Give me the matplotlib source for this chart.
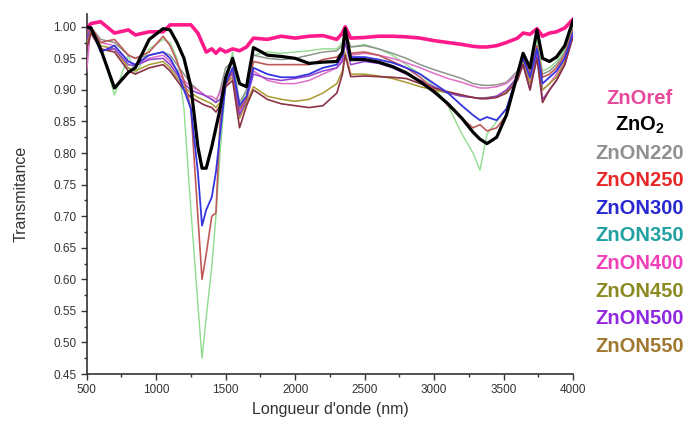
import numpy as np
import matplotlib
matplotlib.use("Agg")
import matplotlib.pyplot as plt
from matplotlib.ticker import MultipleLocator

plt.rcParams['font.family'] = ['Liberation Sans', 'DejaVu Sans']
plt.rcParams['mathtext.fontset'] = 'custom'
plt.rcParams['mathtext.rm'] = 'Liberation Sans:bold'
plt.rcParams['mathtext.default'] = 'rm'

# wavelength grid [nm]
wl = [500, 530, 600, 700, 800, 850, 950, 1050, 1100, 1150,
      1200, 1250, 1300, 1330, 1360, 1400, 1430, 1460, 1500, 1550,
      1600, 1650, 1700, 1800, 1900, 2000, 2100, 2200, 2300, 2340,
      2360, 2400, 2500, 2600, 2700, 2800, 2900, 3000, 3100, 3200,
      3280, 3330, 3380, 3450, 3520, 3600, 3640, 3690, 3740, 3780,
      3830, 3880, 3940, 4000]

zno_ref = [0.998, 1.005, 1.008, 0.990, 0.995, 0.987, 0.992, 0.992, 1.003, 1.003,
           1.003, 1.003, 0.990, 0.975, 0.960, 0.965, 0.958, 0.965, 0.960, 0.965,
           0.962, 0.968, 0.982, 0.980, 0.985, 0.982, 0.985, 0.986, 0.980, 0.990,
           1.000, 0.982, 0.983, 0.985, 0.985, 0.984, 0.982, 0.978, 0.975, 0.972,
           0.969, 0.968, 0.968, 0.970, 0.975, 0.982, 0.990, 0.988, 0.997, 0.985,
           0.990, 0.992, 0.998, 1.012]

zno2 = [1.000, 0.998, 0.965, 0.903, 0.928, 0.935, 0.980, 0.997, 0.995, 0.975,
        0.950, 0.905, 0.810, 0.776, 0.776, 0.810, 0.840, 0.870, 0.920, 0.950,
        0.910, 0.905, 0.967, 0.955, 0.953, 0.950, 0.942, 0.944, 0.945, 0.960,
        0.997, 0.948, 0.948, 0.944, 0.937, 0.927, 0.913, 0.897, 0.878, 0.855,
        0.833, 0.822, 0.815, 0.825, 0.860, 0.925, 0.958, 0.935, 0.995, 0.950,
        0.945, 0.952, 0.970, 1.010]

zon220 = [0.970, 1.000, 0.980, 0.975, 0.955, 0.950, 0.955, 0.960, 0.955, 0.940,
          0.925, 0.910, 0.900, 0.895, 0.890, 0.885, 0.880, 0.900, 0.935, 0.945,
          0.880, 0.900, 0.955, 0.950, 0.948, 0.950, 0.955, 0.960, 0.962, 0.970,
          0.990, 0.968, 0.970, 0.965, 0.958, 0.950, 0.940, 0.932, 0.925, 0.918,
          0.910, 0.908, 0.907, 0.908, 0.912, 0.930, 0.955, 0.930, 0.970, 0.925,
          0.930, 0.940, 0.960, 0.995]

zon250 = [0.990, 1.000, 0.975, 0.980, 0.955, 0.950, 0.960, 0.985, 0.970, 0.945,
          0.915, 0.870, 0.700, 0.600, 0.640, 0.700, 0.705, 0.850, 0.905, 0.930,
          0.870, 0.885, 0.945, 0.940, 0.940, 0.940, 0.940, 0.948, 0.952, 0.960,
          0.990, 0.958, 0.960, 0.955, 0.945, 0.935, 0.920, 0.900, 0.875, 0.855,
          0.840, 0.845, 0.835, 0.840, 0.860, 0.920, 0.955, 0.925, 0.970, 0.920,
          0.925, 0.935, 0.955, 0.995]

zon300 = [0.995, 1.000, 0.960, 0.970, 0.945, 0.940, 0.955, 0.960, 0.950, 0.930,
          0.900, 0.870, 0.770, 0.685, 0.710, 0.730, 0.770, 0.830, 0.910, 0.935,
          0.875, 0.890, 0.935, 0.925, 0.920, 0.920, 0.925, 0.935, 0.940, 0.955,
          0.990, 0.952, 0.952, 0.948, 0.943, 0.935, 0.925, 0.910, 0.895, 0.875,
          0.860, 0.852, 0.857, 0.852, 0.870, 0.925, 0.950, 0.920, 0.965, 0.910,
          0.920, 0.930, 0.950, 0.990]

zon350 = [0.990, 1.000, 0.970, 0.892, 0.955, 0.925, 0.965, 0.980, 0.975, 0.950,
          0.870, 0.710, 0.560, 0.475, 0.540, 0.620, 0.700, 0.800, 0.910, 0.960,
          0.870, 0.900, 0.955, 0.960, 0.958, 0.960, 0.962, 0.965, 0.965, 0.975,
          0.990, 0.968, 0.972, 0.965, 0.955, 0.940, 0.925, 0.905, 0.875, 0.830,
          0.800, 0.773, 0.830, 0.850, 0.870, 0.920, 0.955, 0.930, 0.980, 0.930,
          0.935, 0.945, 0.965, 1.000]

zon400 = [0.930, 1.000, 0.975, 0.970, 0.945, 0.940, 0.950, 0.955, 0.945, 0.930,
          0.915, 0.905, 0.900, 0.895, 0.890, 0.890, 0.885, 0.895, 0.920, 0.930,
          0.865, 0.890, 0.930, 0.915, 0.910, 0.910, 0.915, 0.925, 0.935, 0.950,
          0.985, 0.955, 0.958, 0.955, 0.950, 0.943, 0.935, 0.926, 0.918, 0.912,
          0.906, 0.903, 0.903, 0.905, 0.910, 0.925, 0.945, 0.915, 0.960, 0.900,
          0.910, 0.925, 0.950, 0.990]

zon450 = [0.970, 0.995, 0.970, 0.965, 0.935, 0.930, 0.940, 0.945, 0.935, 0.920,
          0.905, 0.895, 0.888, 0.885, 0.882, 0.878, 0.872, 0.880, 0.910, 0.920,
          0.855, 0.880, 0.905, 0.890, 0.885, 0.882, 0.885, 0.895, 0.910, 0.930,
          0.960, 0.925, 0.925, 0.922, 0.918, 0.912, 0.905, 0.900, 0.895, 0.890,
          0.888, 0.887, 0.888, 0.890, 0.898, 0.920, 0.945, 0.910, 0.955, 0.900,
          0.910, 0.920, 0.945, 0.990]

zon500 = [0.980, 1.000, 0.962, 0.965, 0.940, 0.938, 0.948, 0.950, 0.940, 0.925,
          0.910, 0.900, 0.895, 0.893, 0.890, 0.885, 0.880, 0.885, 0.915, 0.925,
          0.860, 0.885, 0.925, 0.918, 0.915, 0.918, 0.922, 0.930, 0.935, 0.945,
          0.975, 0.940, 0.945, 0.942, 0.935, 0.925, 0.915, 0.905, 0.895, 0.890,
          0.888, 0.887, 0.887, 0.890, 0.900, 0.920, 0.940, 0.900, 0.955, 0.885,
          0.900, 0.915, 0.940, 0.985]

zon550 = [0.965, 0.990, 0.965, 0.960, 0.930, 0.925, 0.935, 0.940, 0.930, 0.915,
          0.900, 0.888, 0.882, 0.878, 0.875, 0.872, 0.865, 0.875, 0.905, 0.915,
          0.840, 0.875, 0.900, 0.885, 0.878, 0.875, 0.872, 0.875, 0.895, 0.925,
          0.955, 0.921, 0.922, 0.921, 0.920, 0.918, 0.910, 0.903, 0.897, 0.892,
          0.888, 0.886, 0.886, 0.888, 0.895, 0.915, 0.940, 0.900, 0.950, 0.880,
          0.900, 0.915, 0.940, 0.985]

names = ['ZnOref', 'ZnO$_2$', 'ZnON220', 'ZnON250', 'ZnON300',
         'ZnON350', 'ZnON400', 'ZnON450', 'ZnON500', 'ZnON550']
series = [zno_ref, zno2, zon220, zon250, zon300,
          zon350, zon400, zon450, zon500, zon550]
line_colors = ['#ff1a8c', 'black', '#8c968c', '#c05a5a', '#3535e0',
               '#8fdc8f', '#e070c8', '#a89a30', '#9040d0', '#8b3045']
text_colors = ['#e8489a', 'black', '#909090', '#e82828', '#2828d0',
               '#20a0a0', '#f040b8', '#8a8a20', '#9028e0', '#a07830']
widths = [2.6, 2.3, 1.1, 1.2, 1.3, 1.0, 1.1, 1.1, 1.1, 1.2]
zorders = [9, 10, 3, 4, 5, 2, 3, 3, 3, 3]

fig = plt.figure(figsize=(6.88, 4.28), dpi=100)
ax = fig.add_axes([0.126, 0.126, 0.707, 0.841])

for y, c, lw, z in zip(series, line_colors, widths, zorders):
    ax.plot(wl, y, color=c, lw=lw, zorder=z, solid_joinstyle='round')

ax.set_xlim(500, 4000)
ax.set_ylim(0.45, 1.02)
ax.xaxis.set_major_locator(MultipleLocator(500))
ax.xaxis.set_minor_locator(MultipleLocator(250))
ax.yaxis.set_major_locator(MultipleLocator(0.05))
ax.yaxis.set_minor_locator(MultipleLocator(0.025))
ax.yaxis.set_major_formatter(plt.FuncFormatter(lambda v, p: f'{v:.2f}'))

for s in ['top', 'right']:
    ax.spines[s].set_visible(False)
for s in ['left', 'bottom']:
    ax.spines[s].set_color('#333333')
    ax.spines[s].set_linewidth(1.2)

ax.tick_params(which='major', direction='out', length=4, width=1, colors='#333333',
               labelsize=8.5, labelcolor='#333333')
ax.tick_params(which='minor', direction='out', length=2.5, width=1, colors='#333333')

ax.set_xlabel("Longueur d'onde (nm)", fontsize=11.5, color='#333333', labelpad=4)
ax.set_ylabel('Transmitance', fontsize=11.5, color='#333333', labelpad=18)

# coloured labels on the right
for i, (n, c) in enumerate(zip(names, text_colors)):
    fig.text(0.930, 1 - (98 + i * 27.6) / 428, n, color=c, fontsize=14.5,
             fontweight='bold', ha='center', va='center')

fig.savefig('out.png', dpi=100)
